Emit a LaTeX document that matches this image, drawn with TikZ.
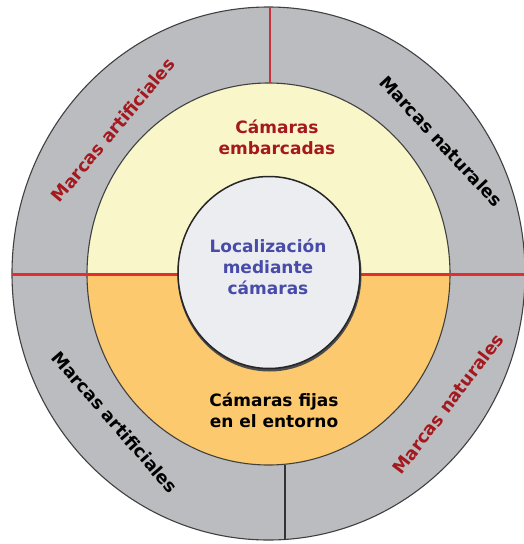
\documentclass[tikz,border=0pt]{standalone}
\usepackage{fontspec}
\setmainfont{DejaVu Sans}
\definecolor{ringgray}{HTML}{BBBCC0}
\definecolor{paleyellow}{HTML}{F9F7C9}
\definecolor{warmorange}{HTML}{FCC96E}
\definecolor{corefill}{HTML}{ECEDF1}
\definecolor{splitred}{HTML}{E52D2F}
\definecolor{thinred}{HTML}{C8323C}
\definecolor{labelred}{HTML}{A5191E}
\definecolor{labelblue}{HTML}{484CA8}
\begin{document}
\begin{tikzpicture}[x=1pt,y=-1pt,
  outline/.style={draw=black!75,line width=1.1pt},
  lbl/.style={font=\fontsize{17}{21}\selectfont\bfseries,align=center,inner sep=0pt},
  ringlbl/.style={font=\fontsize{17.5}{21}\selectfont\bfseries,inner sep=0pt}]
\useasboundingbox (0,0) rectangle (524,544);
\fill[white] (0,0) rectangle (524,544);

% outer ring
\fill[ringgray] (268.5,273.5) ellipse [x radius=256.5,y radius=266.5];
\draw[outline] (268.5,273.5) ellipse [x radius=256.5,y radius=266.5];

% middle ring: pale upper half, orange lower half
\fill[paleyellow] (268.5,274) ellipse [x radius=181.5,y radius=191];
\begin{scope}
  \clip (0,274) rectangle (524,544);
  \fill[warmorange] (268.5,274) ellipse [x radius=181.5,y radius=191];
\end{scope}
\draw[outline] (268.5,274) ellipse [x radius=181.5,y radius=191];

% dividing lines
\coordinate (splitL) at (12,274);
\coordinate (splitR) at (524,274);
\draw[splitred,line width=3pt] (splitL) -- (splitR);
\coordinate (topA) at (270,7);
\coordinate (topB) at (270,83);
\draw[thinred,line width=1.6pt] (topA) -- (topB);
\coordinate (botA) at (285,464.5);
\coordinate (botB) at (285,539.5);
\draw[black!80,line width=1.1pt] (botA) -- (botB);

% central disc with a soft shadow
\fill[black!70] (269.5,274.5) ellipse [x radius=92,y radius=97];
\fill[corefill] (269,272.5) ellipse [x radius=91,y radius=96];
\draw[black!85,line width=1.5pt] (269,272.5) ellipse [x radius=91,y radius=96];

% texts
\node[lbl,text=labelblue] (core) at (268,267) {Localización\\mediante\\cámaras};
\node[lbl,text=labelred] (onboard) at (277,137) {Cámaras\\embarcadas};
\node[lbl,text=black] (fixed) at (274,410) {Cámaras fijas\\en el entorno};

\node[ringlbl,text=labelred,rotate=50] (artTL) at (113,130) {Marcas artificiales};
\node[ringlbl,text=black,rotate=-47] (natTR) at (441,141) {Marcas naturales};
\node[ringlbl,text=black,rotate=-49] (artBL) at (115,422) {Marcas artificiales};
\node[ringlbl,text=labelred,rotate=53] (natBR) at (448,404) {Marcas naturales};
\end{tikzpicture}
\end{document}
